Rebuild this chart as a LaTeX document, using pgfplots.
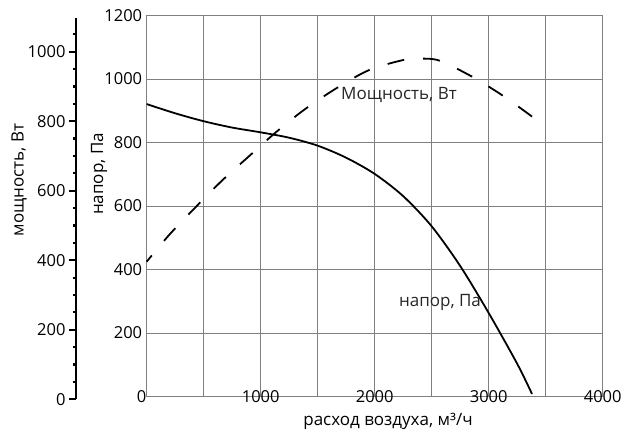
\documentclass[border=0pt]{standalone}
\usepackage{fontspec}
\setmainfont{Open Sans}
\usepackage{pgfplots}
\pgfplotsset{compat=1.18}

% fan curves: pressure (Pa) and power (W) against air flow (m3/h)
\pgfplotstableread{
q     p
0     921
250   892
500   867
750   847
1000  832
1250  815
1500  790
1750  752
2000  701
2250  631
2500  536
2750  411
3000  263
3250  103
3380  8
}\pressure

\pgfplotstableread{
q     w
0     396
200   474
430   553
660   629
900   700
1140  770
1390  835
1670  896
1950  947
2250  976
2400  980
2570  974
2860  927
3140  870
3410  806
}\power

\begin{document}
\begin{tikzpicture}[x=1pt,y=1pt,font=\fontsize{17}{20}\selectfont]
\useasboundingbox (0,0) rectangle (626,432);

% pressure axis with grid
\begin{axis}[
  at={(146.7pt,35.5pt)}, anchor=south west,
  scale only axis, width=456pt, height=381pt,
  xmin=0, xmax=4000, ymin=0, ymax=1200,
  xtick={1000,2000,3000,4000}, minor xtick={500,1500,2500,3500},
  extra x ticks={0},
  extra x tick style={xticklabel style={xshift=-5pt}},
  ytick={200,400,...,1200},
  grid=both,
  major grid style={draw=gray, line width=0.9pt},
  minor grid style={draw=gray, line width=0.9pt},
  axis line style={draw=gray, line width=0.9pt},
  major tick length=0pt, minor tick length=0pt,
  /pgf/number format/assume math mode=true,
  /pgf/number format/1000 sep={},
  tick label style={font=\fontsize{16.5}{19}\selectfont},
  xticklabel style={anchor=center},
  yticklabel style={xshift=-1pt},
]
\addplot[black, line width=1.8pt, smooth] table[x=q, y=p] {\pressure};
\end{axis}

% power axis, drawn on the far left
\begin{axis}[
  at={(76pt,32.7pt)}, anchor=south west,
  scale only axis, width=526.7pt, height=381pt,
  xmin=-620.2, xmax=4000, ymin=0, ymax=1096,
  axis x line=none, axis y line=left,
  y axis line style={-, line width=2.2pt},
  ytick={0,200,...,1000}, minor ytick={50,100,...,1050},
  tick align=outside,
  major tick length=7pt, minor tick length=3pt,
  every tick/.style={black, line width=2.2pt},
  /pgf/number format/assume math mode=true,
  /pgf/number format/1000 sep={},
  tick label style={font=\fontsize{16.5}{19}\selectfont},
]
\addplot[black, line width=1.8pt, smooth,
  dash pattern=on 17pt off 19pt, dash phase=9pt] table[x=q, y=w] {\power};
\end{axis}

\node[rotate=90] at (19,252) {мощность, Вт};
\node[rotate=90] at (99,258) {напор, Па};
\node at (388,11) {расход воздуха, м³/ч};
\node[text=black!85] at (399,337) {Мощность, Вт};
\node[text=black!85] at (440,130) {напор, Па};
\end{tikzpicture}
\end{document}
